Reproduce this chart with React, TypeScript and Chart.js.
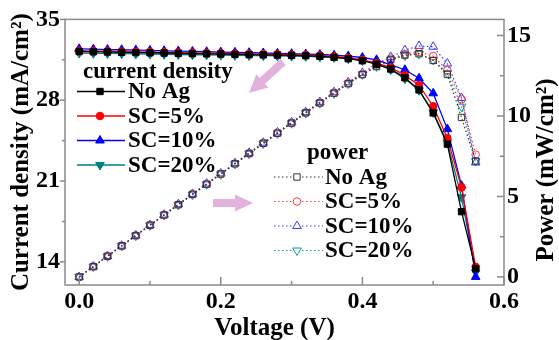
import React, { useEffect, useRef } from "react";
import { Chart, registerables } from "chart.js";
Chart.register(...registerables);

// ---------------- data ----------------
const voltage = [
  0, 0.02, 0.04, 0.06, 0.08, 0.1, 0.12, 0.14, 0.16, 0.18, 0.2, 0.22, 0.24, 0.26, 0.28,
  0.3, 0.32, 0.34, 0.36, 0.38, 0.4, 0.42, 0.44, 0.46, 0.48, 0.5, 0.52, 0.54, 0.56,
];

// current density (mA/cm2)
const jNoAg = [
  32.22, 32.2, 32.18, 32.15, 32.13, 32.11, 32.09, 32.06, 32.04, 32.02, 32.0, 31.97, 31.95, 31.93, 31.91,
  31.88, 31.86, 31.8, 31.72, 31.6, 31.42, 31.12, 30.7, 29.95, 28.9, 26.9, 24.2, 18.35, 13.4,
];
const jSC5 = [
  32.28, 32.26, 32.24, 32.21, 32.19, 32.17, 32.15, 32.12, 32.1, 32.08, 32.06, 32.03, 32.01, 31.99, 31.97,
  31.94, 31.92, 31.88, 31.8, 31.68, 31.5, 31.22, 30.85, 30.15, 29.3, 27.48, 24.72, 20.45, 13.57,
];
const jSC10 = [
  32.45, 32.42, 32.39, 32.37, 32.34, 32.31, 32.28, 32.26, 32.23, 32.2, 32.17, 32.15, 32.12, 32.09, 32.06,
  32.03, 32.0, 31.96, 31.9, 31.82, 31.7, 31.5, 31.07, 30.64, 29.9, 28.6, 25.5, 20.6, 12.7,
];
const jSC20 = [
  32.08, 32.06, 32.05, 32.03, 32.01, 32.0, 31.98, 31.96, 31.94, 31.93, 31.91, 31.89, 31.87, 31.86, 31.84,
  31.82, 31.8, 31.76, 31.7, 31.6, 31.45, 31.15, 30.65, 29.87, 28.86, 26.95, 24.35, 19.6, 13.1,
];

// power (mW/cm2)
const pNoAg = [
  0, 0.64, 1.29, 1.93, 2.57, 3.21, 3.85, 4.49, 5.13, 5.76, 6.4, 7.03, 7.67, 8.3, 8.93,
  9.56, 10.2, 10.81, 11.42, 12.01, 12.57, 13.07, 13.51, 13.78, 13.87, 13.45, 12.58, 9.91, 7.2,
];
const pSC5 = [
  0, 0.65, 1.29, 1.93, 2.58, 3.22, 3.86, 4.5, 5.14, 5.77, 6.41, 7.05, 7.68, 8.32, 8.95,
  9.58, 10.21, 10.84, 11.45, 12.04, 12.6, 13.11, 13.57, 13.85, 13.98, 13.72, 12.85, 11.04, 7.6,
];
const pSC10 = [
  0, 0.65, 1.3, 1.94, 2.59, 3.23, 3.87, 4.52, 5.16, 5.8, 6.43, 7.07, 7.71, 8.34, 8.98,
  9.61, 10.24, 10.87, 11.48, 12.09, 12.68, 13.23, 13.67, 14.09, 14.35, 14.3, 13.26, 11.12, 7.11,
];
const pSC20 = [
  0, 0.64, 1.28, 1.92, 2.56, 3.2, 3.84, 4.47, 5.11, 5.75, 6.38, 7.02, 7.65, 8.28, 8.92,
  9.55, 10.18, 10.8, 11.41, 12.01, 12.58, 13.08, 13.49, 13.74, 13.85, 13.48, 12.66, 10.58, 7.2,
];

const seriesNames = ["No Ag", "SC=5%", "SC=10%", "SC=20%"];

// ticks
const xTicks = [0, 0.1, 0.2, 0.3, 0.4, 0.5, 0.6];
const xLabels = [0, 0.2, 0.4, 0.6];
const jTicks = [14, 17.5, 21, 24.5, 28, 31.5, 35];
const jLabels = [14, 21, 28, 35];
const pTicks = [0, 2.5, 5, 7.5, 10, 12.5, 15];
const pLabels = [0, 5, 10, 15];

const FONT = '"Liberation Serif", "Times New Roman", serif';
const AXIS = "#8a8a8a";
const ARROW = "#e2b1dd";

const jColors = ["#000000", "#ff0000", "#0000ff", "#008080"];
const pColors = ["#333333", "#ff3b3b", "#3b3bff", "#139a9a"];
const styles = ["rect", "circle", "triangle", "triangle"];
const rotations = [0, 0, 0, 180];
const radii = [4.5, 3.8, 5, 5];

const near = (a: number, list: number[]) => list.some((b) => Math.abs(a - b) < 1e-6);

function drawMarker(
  ctx: CanvasRenderingContext2D,
  style: string,
  x: number,
  y: number,
  r: number,
  rot: number,
  fill: string | null,
  stroke: string
) {
  ctx.beginPath();
  if (style === "rect") {
    const s = r * Math.SQRT1_2;
    ctx.rect(x - s, y - s, 2 * s, 2 * s);
  } else if (style === "circle") {
    ctx.arc(x, y, r, 0, Math.PI * 2);
  } else {
    let rad = (rot * Math.PI) / 180;
    ctx.moveTo(x + Math.sin(rad) * r, y - Math.cos(rad) * r);
    rad += (2 * Math.PI) / 3;
    ctx.lineTo(x + Math.sin(rad) * r, y - Math.cos(rad) * r);
    rad += (2 * Math.PI) / 3;
    ctx.lineTo(x + Math.sin(rad) * r, y - Math.cos(rad) * r);
    ctx.closePath();
  }
  if (fill) {
    ctx.fillStyle = fill;
    ctx.fill();
  }
  ctx.strokeStyle = stroke;
  ctx.lineWidth = 1;
  ctx.stroke();
}

function drawArrow(
  ctx: CanvasRenderingContext2D,
  x1: number,
  y1: number,
  x2: number,
  y2: number,
  shaft: number,
  headW: number,
  headL: number
) {
  const ang = Math.atan2(y2 - y1, x2 - x1);
  const len = Math.hypot(x2 - x1, y2 - y1);
  ctx.save();
  ctx.translate(x1, y1);
  ctx.rotate(ang);
  ctx.beginPath();
  ctx.moveTo(0, -shaft / 2);
  ctx.lineTo(len - headL, -shaft / 2);
  ctx.lineTo(len - headL, -headW / 2);
  ctx.lineTo(len, 0);
  ctx.lineTo(len - headL, headW / 2);
  ctx.lineTo(len - headL, shaft / 2);
  ctx.lineTo(0, shaft / 2);
  ctx.closePath();
  ctx.fillStyle = ARROW;
  ctx.fill();
  ctx.restore();
}

export default function App() {
  const ref = useRef<HTMLCanvasElement>(null);

  useEffect(() => {
    const canvas = ref.current!;
    const pts = (arr: number[]) => voltage.map((v, i) => ({ x: v, y: arr[i] }));
    const jData = [jNoAg, jSC5, jSC10, jSC20];
    const pData = [pNoAg, pSC5, pSC10, pSC20];

    const jSets = jData.map((d, i) => ({
      label: seriesNames[i],
      data: pts(d),
      yAxisID: "y",
      borderColor: jColors[i],
      backgroundColor: jColors[i],
      borderWidth: 1.3,
      pointStyle: styles[i] as any,
      pointRotation: rotations[i],
      pointRadius: radii[i],
      pointBackgroundColor: jColors[i],
      pointBorderColor: jColors[i],
      pointBorderWidth: 1,
      tension: 0,
    }));
    const pSets = pData.map((d, i) => ({
      label: seriesNames[i],
      data: pts(d),
      yAxisID: "y1",
      borderColor: pColors[i],
      backgroundColor: "rgba(0,0,0,0)",
      borderWidth: 1.2,
      borderDash: [1.5, 2.5],
      pointStyle: styles[i] as any,
      pointRotation: rotations[i],
      pointRadius: radii[i],
      pointBackgroundColor: "rgba(0,0,0,0)",
      pointBorderColor: pColors[i],
      pointBorderWidth: 1,
      tension: 0,
    }));

    const tickFont = { family: FONT, size: 24, weight: "bold" as const, lineHeight: 1.2 };

    const decor = {
      id: "decor",
      afterDraw(chart: any) {
        const { ctx, chartArea: a, scales } = chart;
        ctx.save();
        // frame
        ctx.strokeStyle = AXIS;
        ctx.lineWidth = 1.5;
        ctx.strokeRect(a.left, a.top, a.right - a.left, a.bottom - a.top);
        const line = (x1: number, y1: number, x2: number, y2: number) => {
          ctx.beginPath();
          ctx.moveTo(x1, y1);
          ctx.lineTo(x2, y2);
          ctx.stroke();
        };
        for (const v of xTicks) {
          const px = scales.x.getPixelForValue(v);
          line(px, a.bottom, px, a.bottom - (near(v, xLabels) ? 8 : 4));
        }
        for (const v of jTicks) {
          const py = scales.y.getPixelForValue(v);
          line(a.left - (near(v, jLabels) ? 5 : 3), py, a.left, py);
        }
        for (const v of pTicks) {
          const py = scales.y1.getPixelForValue(v);
          line(a.right - (near(v, pLabels) ? 7 : 4), py, a.right, py);
        }

        // axis titles
        ctx.fillStyle = "#000";
        ctx.font = `bold 25px ${FONT}`;
        ctx.textAlign = "center";
        ctx.textBaseline = "alphabetic";
        ctx.save();
        ctx.translate(28, (a.top + a.bottom) / 2);
        ctx.rotate(-Math.PI / 2);
        ctx.fillText("Current density (mA/cm²)", 0, 0);
        ctx.restore();
        ctx.save();
        ctx.translate(553, 170);
        ctx.rotate(-Math.PI / 2);
        ctx.fillText("Power (mW/cm²)", 0, 0);
        ctx.restore();
        ctx.fillText("Voltage (V)", 274.5, 335);

        // arrows
        drawArrow(ctx, 283, 62, 249, 93, 8, 18, 18);
        drawArrow(ctx, 213, 203, 253, 203, 8, 17, 18);

        // legends
        ctx.font = `bold 23px ${FONT}`;
        ctx.textAlign = "left";
        ctx.textBaseline = "middle";
        ctx.fillStyle = "#000";
        ctx.fillText("current density", 83, 72);
        const jRows = [91.5, 116, 140.5, 165];
        jRows.forEach((y, i) => {
          ctx.strokeStyle = jColors[i];
          ctx.lineWidth = 1.3;
          ctx.setLineDash([]);
          line(77, y, 125, y);
          drawMarker(ctx, styles[i], 100, y, radii[i], rotations[i], jColors[i], jColors[i]);
          ctx.fillStyle = "#000";
          ctx.fillText(seriesNames[i], 128, y + 1);
        });
        ctx.fillText("power", 307, 153);
        const pRows = [177, 201.5, 226, 250.5];
        pRows.forEach((y, i) => {
          ctx.strokeStyle = pColors[i];
          ctx.lineWidth = 1.2;
          ctx.setLineDash([1.5, 2.5]);
          line(274, y, 323, y);
          ctx.setLineDash([]);
          drawMarker(ctx, styles[i], 297, y, radii[i], rotations[i], "#ffffff", pColors[i]);
          ctx.fillStyle = "#000";
          ctx.fillText(seriesNames[i], 325, y + 1);
        });
        ctx.restore();
      },
    };

    const chart = new Chart(canvas, {
      type: "line",
      data: { datasets: [...jSets, ...pSets] as any },
      options: {
        responsive: false,
        animation: false,
        devicePixelRatio: 1,
        layout: { padding: { top: 19, left: 0, right: 0, bottom: 0 } },
        plugins: { legend: { display: false }, tooltip: { enabled: false } },
        scales: {
          x: {
            type: "linear",
            min: -0.02,
            max: 0.6,
            grid: { display: false, drawTicks: false },
            border: { display: false },
            afterBuildTicks: (ax: any) => {
              ax.ticks = xTicks.map((v) => ({ value: v }));
            },
            afterFit: (ax: any) => {
              ax.height = 55;
            },
            ticks: {
              autoSkip: false,
              maxRotation: 0,
              padding: 2,
              color: "#000",
              font: tickFont,
              callback: (v: any) => (near(Number(v), xLabels) ? Number(v).toFixed(1) : ""),
            },
          },
          y: {
            type: "linear",
            position: "left",
            min: 12,
            max: 35,
            grid: { display: false, drawTicks: false },
            border: { display: false },
            afterBuildTicks: (ax: any) => {
              ax.ticks = jTicks.map((v) => ({ value: v }));
            },
            afterFit: (ax: any) => {
              ax.width = 65;
            },
            ticks: {
              autoSkip: false,
              padding: 5,
              color: "#000",
              font: tickFont,
              callback: (v: any) => (near(Number(v), jLabels) ? String(v) : ""),
            },
          },
          y1: {
            type: "linear",
            position: "right",
            min: -0.5,
            max: 16,
            grid: { display: false, drawTicks: false },
            border: { display: false },
            afterBuildTicks: (ax: any) => {
              ax.ticks = pTicks.map((v) => ({ value: v }));
            },
            afterFit: (ax: any) => {
              ax.width = 55;
            },
            ticks: {
              autoSkip: false,
              padding: 3,
              color: "#000",
              font: tickFont,
              callback: (v: any) => (near(Number(v), pLabels) ? String(v) : ""),
            },
          },
        },
      },
      plugins: [decor],
    });
    return () => chart.destroy();
  }, []);

  return (
    <div style={{ position: "fixed", left: 0, top: 0, width: 559, height: 340, background: "#fff" }}>
      <canvas ref={ref} width={559} height={340} style={{ display: "block" }} />
    </div>
  );
}
